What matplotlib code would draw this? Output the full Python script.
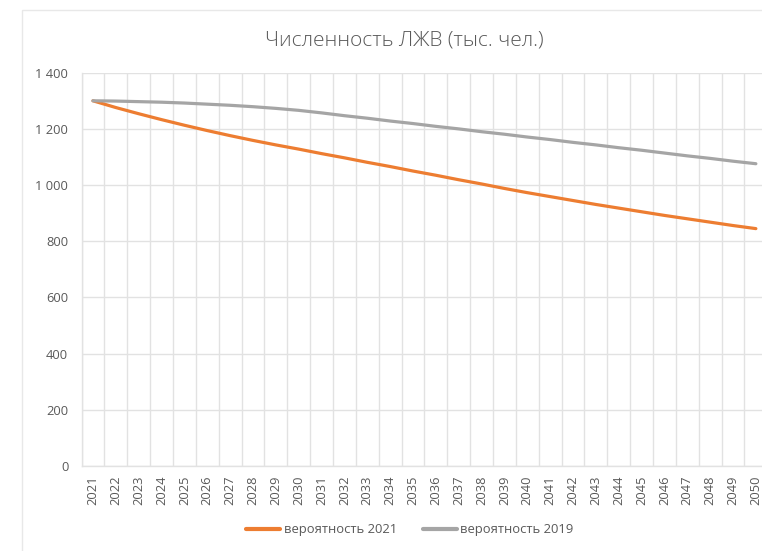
import matplotlib
matplotlib.use("Agg")
import matplotlib.pyplot as plt
from matplotlib.ticker import FuncFormatter, FixedLocator, MultipleLocator
from matplotlib.patches import Rectangle
import numpy as np

years = list(range(2021, 2051))
prob_2021 = [1300, 1276, 1254, 1233, 1213, 1194, 1176, 1159, 1143, 1128,
             1112, 1097, 1081, 1066, 1050, 1035, 1019, 1004, 988, 973,
             959, 945, 931, 918, 905, 892, 880, 868, 856, 845]
prob_2019 = [1300, 1299, 1297, 1295, 1292, 1288, 1284, 1279, 1273, 1266,
             1257, 1247, 1238, 1228, 1219, 1209, 1200, 1190, 1181, 1171,
             1162, 1152, 1143, 1133, 1124, 1114, 1104, 1095, 1085, 1076]
series_labels = ["вероятность 2021", "вероятность 2019"]
title = "Численность ЛЖВ (тыс. чел.)"

plt.rcParams['font.family'] = ['Open Sans', 'DejaVu Sans']
TXT = "#595959"
GRID = "#E2E2E2"

W, H = 762, 551
fig = plt.figure(figsize=(W / 100, H / 100), dpi=100)

# chart-area border
fig.patches.append(Rectangle((22 / W, -0.05), 1.1, 1 - 10 / H + 0.05,
                             transform=fig.transFigure, fill=False,
                             edgecolor="#E8E8E8", linewidth=1, zorder=0))

left_px, right_px = 81.5, 81.5 + 30 * 22.86
top_px, bot_px = 72.7, 466
ax = fig.add_axes([left_px / W, 1 - bot_px / H, (right_px - left_px) / W,
                   (bot_px - top_px) / H])

x = np.arange(len(years))
l1, = ax.plot(x, prob_2021, color="#ED7D31", lw=2.3, solid_capstyle='round',
              label=series_labels[0], zorder=3)
l2, = ax.plot(x, prob_2019, color="#A5A5A5", lw=2.3, solid_capstyle='round',
              label=series_labels[1], zorder=3)

ax.set_xlim(-0.5, len(years) - 0.5)
ax.set_ylim(0, 1400)
ax.yaxis.set_major_locator(MultipleLocator(200))
ax.yaxis.set_major_formatter(FuncFormatter(lambda v, p: f"{int(v):,}".replace(",", " ")))
ax.set_xticks(x)
ax.set_xticklabels([str(y) for y in years], rotation=90, va='top')
ax.xaxis.set_minor_locator(FixedLocator(np.arange(-0.5, len(years), 1)))

ax.grid(axis='y', which='major', color=GRID, lw=1)
ax.grid(axis='x', which='minor', color=GRID, lw=1)
ax.set_axisbelow(True)
for s in ['top', 'right']:
    ax.spines[s].set_visible(False)
for s in ['left', 'bottom']:
    ax.spines[s].set_color(GRID)
    ax.spines[s].set_linewidth(1)
ax.tick_params(axis='both', which='both', length=0, colors=TXT, labelsize=9.3)
ax.tick_params(axis='y', pad=9.5)
ax.tick_params(axis='x', pad=6.5)

fig.text(404 / W, 1 - 40 / H, title, ha='center', va='center',
         fontsize=15, color=TXT, fontweight='light')

leg = fig.legend(handles=[l1, l2], loc='center',
                 bbox_to_anchor=(410 / W, 1 - 530 / H), ncol=2, frameon=False,
                 fontsize=9.4, handlelength=2.6, handletextpad=0.25,
                 columnspacing=2.0, labelcolor=TXT)
for h in leg.legend_handles:
    h.set_linewidth(3)

fig.savefig("out.png", dpi=100)
